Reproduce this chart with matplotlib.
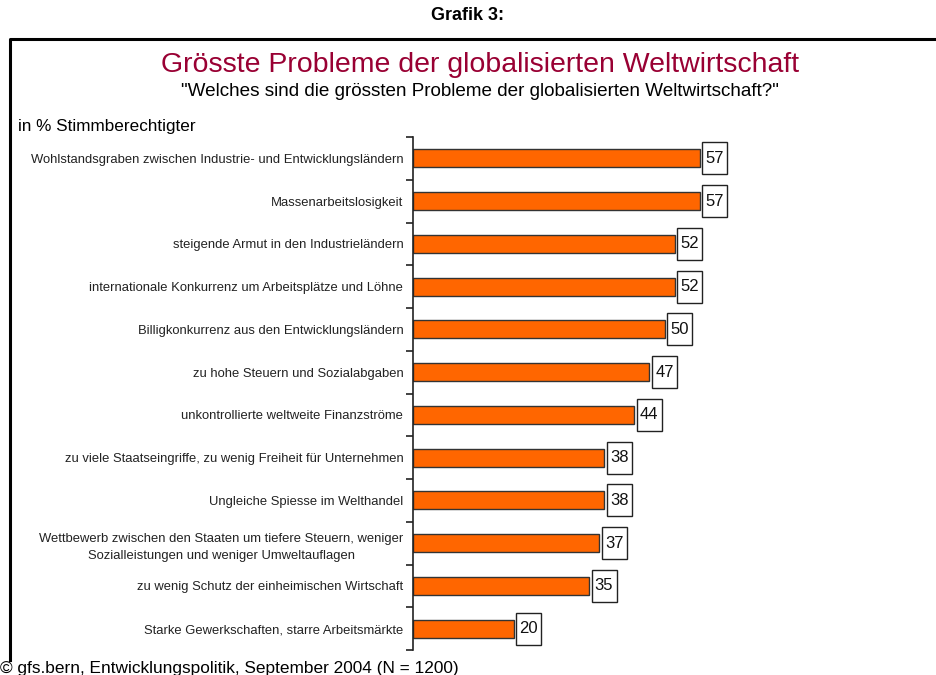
import matplotlib
matplotlib.use('Agg')
import matplotlib.pyplot as plt
from matplotlib.lines import Line2D
from matplotlib.patches import Rectangle

plt.rcParams['font.family'] = ['Liberation Sans', 'DejaVu Sans']

categories = [
    'Wohlstandsgraben zwischen Industrie- und Entwicklungsländern',
    'Massenarbeitslosigkeit',
    'steigende Armut in den Industrieländern',
    'internationale Konkurrenz um Arbeitsplätze und Löhne',
    'Billigkonkurrenz aus den Entwicklungsländern',
    'zu hohe Steuern und Sozialabgaben',
    'unkontrollierte weltweite Finanzströme',
    'zu viele Staatseingriffe, zu wenig Freiheit für Unternehmen',
    'Ungleiche Spiesse im Welthandel',
    'Wettbewerb zwischen den Staaten um tiefere Steuern, weniger\n'
    'Sozialleistungen und weniger Umweltauflagen',
    'zu wenig Schutz der einheimischen Wirtschaft',
    'Starke Gewerkschaften, starre Arbeitsmärkte',
]
values = [57, 57, 52, 52, 50, 47, 44, 38, 38, 37, 35, 20]

W, H = 936, 675
fig = plt.figure(figsize=(W / 100, H / 100), dpi=100)


def px(x, y):
    return x / W, 1 - y / H


# axes: spine at x=413, categories from y=137 to y=650, ~5.03 px per percent
left, top = px(413, 137)
_, bottom = px(0, 650)
ax_w = 503
ax = fig.add_axes([left, bottom, ax_w / W, top - bottom])

pos = list(range(len(values)))
ax.barh(pos, values, height=0.42, color='#ff6600', edgecolor='#333333',
        linewidth=1)
ax.set_ylim(len(values) - 0.5, -0.5)
ax.set_xlim(0, 100)

ax.set_yticks([p - 0.5 for p in pos] + [len(values) - 0.5])
ax.set_yticklabels([])
ax.tick_params(axis='y', direction='out', length=5, width=1.2, color='#222222')
ax.set_yticks(pos, minor=True)
ax.set_yticklabels(categories, minor=True, fontsize=9.35, color='#222222',
                   multialignment='center', linespacing=1.55)
ax.tick_params(axis='y', which='minor', length=0, pad=7)
ax.set_xticks([])
for side in ['top', 'right', 'bottom']:
    ax.spines[side].set_visible(False)
ax.spines['left'].set_linewidth(1.2)
ax.spines['left'].set_color('#222222')

# value boxes: 25 px wide, 32 px tall, 2.5 px right of the bar end
unit = ax_w / 100.0
row = (650 - 137) / len(values)
bw, bh, gap = 25 / unit, 32 / row, 2.5 / unit
for p, v in zip(pos, values):
    ax.add_patch(Rectangle((v + gap, p - bh / 2), bw, bh, fc='white',
                           ec='#222222', lw=1, clip_on=False))
    ax.text(v + gap + bw / 2, p, str(v), ha='center', va='center',
            fontsize=12, color='#111111', clip_on=False)

# frame around the chart
fig.add_artist(Line2D([10 / W, 10 / W, 1.0], [1 - 660 / H, 1 - 39 / H, 1 - 39 / H],
                      color='black', lw=2.2, transform=fig.transFigure))

fig.text(*px(468, 15), 'Grafik 3:', ha='center', va='center', fontsize=13,
         fontweight='bold', color='black')
fig.text(*px(480, 65), 'Grösste Probleme der globalisierten Weltwirtschaft',
         ha='center', va='center', fontsize=20.5, color='#990033')
fig.text(*px(480, 91),
         '"Welches sind die grössten Probleme der globalisierten Weltwirtschaft?"',
         ha='center', va='center', fontsize=13.6, color='black')
fig.text(*px(18, 127), 'in % Stimmberechtigter', ha='left', va='center',
         fontsize=12.3, color='black')
fig.text(*px(0, 669), '© gfs.bern, Entwicklungspolitik, September 2004 (N = 1200)',
         ha='left', va='center', fontsize=12.4, color='black')

fig.savefig('out.png', dpi=100)
